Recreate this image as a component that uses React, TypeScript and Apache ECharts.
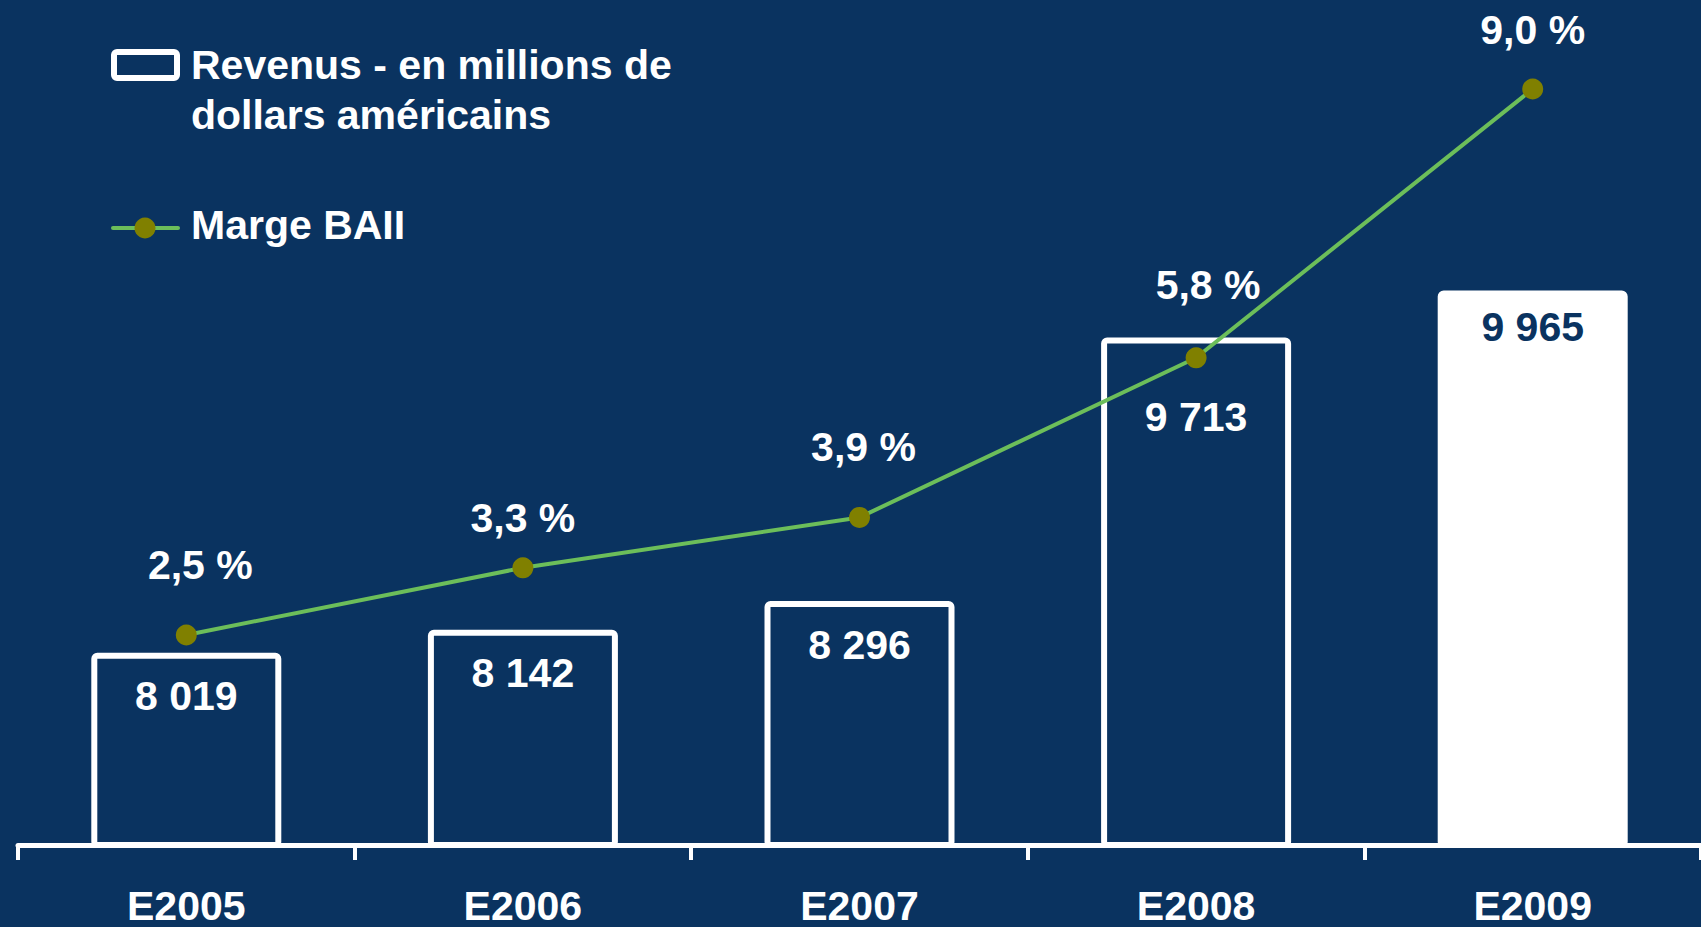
import React, { useEffect, useRef } from "react";
import * as echarts from "echarts";

const categories = ["E2005", "E2006", "E2007", "E2008", "E2009"];
const revenues = [8019, 8142, 8296, 9713, 9965];
const margins = [2.5, 3.3, 3.9, 5.8, 9.0];
const legendRevenue = "Revenus - en millions de\ndollars américains";
const legendMargin = "Marge BAII";

const NAVY = "#0A3360";
const GREEN = "#6CBE5A";
const OLIVE = "#808000";
const FONT = "'Liberation Sans', Arial, sans-serif";
const FS = 41;

const fmtThousands = (v: number) => String(v).replace(/\B(?=(\d{3})+(?!\d))/g, " ");
const fmtPct = (v: number) => v.toFixed(1).replace(".", ",") + " %";

export default function App() {
  const ref = useRef<HTMLDivElement>(null);
  useEffect(() => {
    if (!ref.current) return;
    const chart = echarts.init(ref.current, null, { renderer: "svg" });
    const barLabelOffsets = [0, 0, 0, 36, -7];
    const lineLabelOffsets = [[14, 0], [0, 20], [4, 0], [12, -3], [0, 11]];
    chart.setOption({
      animation: false,
      backgroundColor: NAVY,
      grid: { left: 18, right: 0, top: 5, bottom: 82 },
      xAxis: {
        type: "category",
        data: categories,
        axisLine: { lineStyle: { color: "#fff", width: 5, cap: "round" } },
        axisTick: { show: true, length: 15, lineStyle: { color: "#fff", width: 4 } },
        axisLabel: {
          color: "#fff",
          fontFamily: FONT,
          fontWeight: "bold",
          fontSize: FS,
          lineHeight: FS,
          margin: 40,
        },
        z: 5,
      },
      yAxis: [
        { type: "value", min: 6985, max: 11500, show: false, splitLine: { show: false } },
        { type: "value", min: 0, max: 10, show: false, splitLine: { show: false } },
      ],
      series: [
        {
          type: "bar",
          yAxisIndex: 0,
          barWidth: 190,
          data: revenues.map((v, i) => {
            const last = i === revenues.length - 1;
            return {
              value: v,
              itemStyle: {
                color: last ? "#fff" : NAVY,
                borderColor: "#fff",
                borderWidth: 6,
                borderRadius: 3,
              },
              label: {
                color: last ? NAVY : "#fff",
                offset: [0, barLabelOffsets[i]],
              },
            };
          }),
          label: {
            show: true,
            position: "insideTop",
            distance: 23,
            fontFamily: FONT,
            fontWeight: "bold",
            fontSize: FS,
            formatter: (p: any) => fmtThousands(p.value),
          },
          z: 2,
        },
        {
          type: "line",
          yAxisIndex: 1,
          data: margins.map((v, i) => ({ value: v, label: { offset: lineLabelOffsets[i] } })),
          lineStyle: { color: GREEN, width: 4 },
          itemStyle: { color: OLIVE },
          symbol: "circle",
          symbolSize: 21,
          label: {
            show: true,
            position: "top",
            distance: 39,
            color: "#fff",
            fontFamily: FONT,
            fontWeight: "bold",
            fontSize: FS,
            formatter: (p: any) => fmtPct(p.value),
          },
          z: 3,
        },
      ],
      graphic: [
        {
          type: "rect",
          shape: { x: 114, y: 52, width: 63, height: 26, r: 3 },
          style: { fill: NAVY, stroke: "#fff", lineWidth: 6 },
        },
        {
          type: "text",
          x: 191,
          y: 40,
          style: {
            text: legendRevenue,
            fill: "#fff",
            fontFamily: FONT,
            fontWeight: "bold",
            fontSize: FS,
            lineHeight: 50,
          },
        },
        {
          type: "line",
          shape: { x1: 113, y1: 228, x2: 178, y2: 228 },
          style: { stroke: GREEN, lineWidth: 4, lineCap: "round" },
        },
        {
          type: "circle",
          shape: { cx: 145, cy: 228, r: 10.5 },
          style: { fill: OLIVE },
        },
        {
          type: "text",
          x: 191,
          y: 200,
          style: {
            text: legendMargin,
            fill: "#fff",
            fontFamily: FONT,
            fontWeight: "bold",
            fontSize: FS,
            lineHeight: 50,
          },
        },
      ],
    });
    return () => chart.dispose();
  }, []);
  return <div ref={ref} style={{ width: 1701, height: 927, position: "fixed", left: 0, top: 0 }} />;
}
